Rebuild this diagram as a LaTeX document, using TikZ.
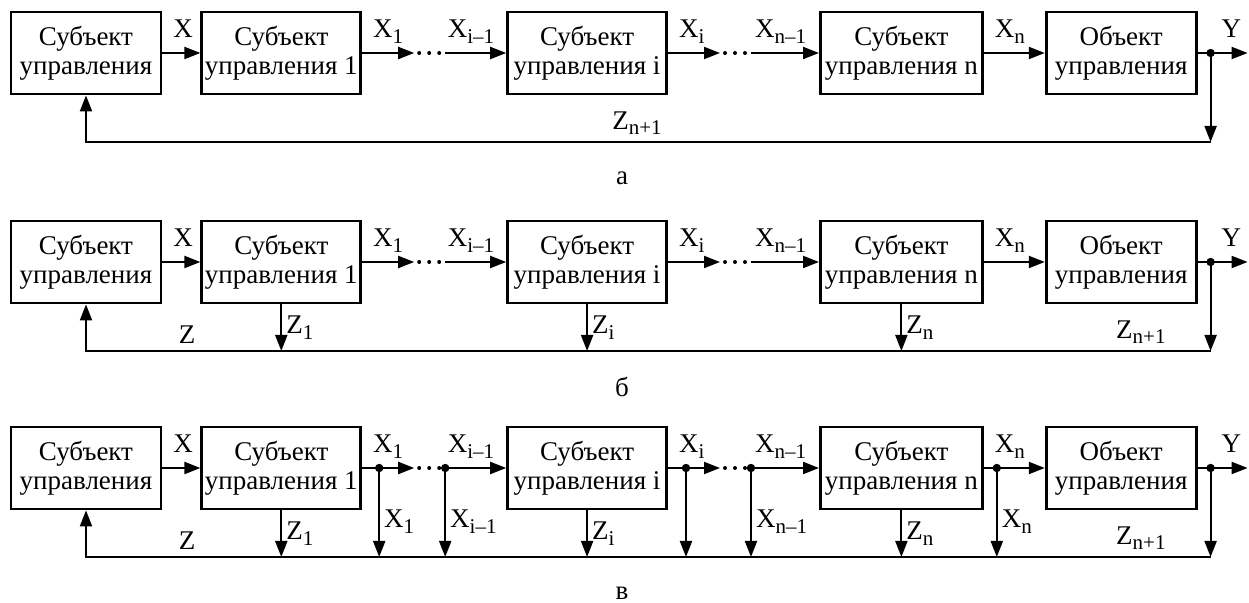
\documentclass[tikz,border=0pt]{standalone}
\usepackage{fontspec}
\setmainfont{Liberation Serif}
\usetikzlibrary{arrows.meta,positioning}

\newcommand\nizh[1]{\raisebox{-0.22em}{\fontsize{10.5}{10.5}\selectfont #1}}

\tikzset{
  blok/.style={draw, line width=1.4pt, minimum width=79.5pt, minimum height=41pt,
    inner sep=1pt, align=center, font=\fontsize{13.5}{14.5}\selectfont},
  metka/.style={inner sep=1pt, font=\fontsize{13.5}{14.5}\selectfont},
  uzel/.style={circle, fill, inner sep=0pt, minimum size=4.2pt},
}

\begin{document}
\begin{tikzpicture}[x=0.5pt, y=-0.5pt, line width=1pt, >={Triangle[length=8pt,width=6pt]}]
\useasboundingbox (0,0) rectangle (1249,603);
\foreach \row/\dy/\lit in {a/0/а, b/209/б, c/415/в} {
  \node [blok, minimum width=75pt] (\row1) at (86,53+\dy) {Субъект\\управления};
  \node [blok] (\row2) [right=19pt of \row1] {Субъект\\управления 1};
  \node [blok] (\row3) [right=72pt of \row2] {Субъект\\управления i};
  \node [blok, minimum width=81pt] (\row4) [right=75.5pt of \row3] {Субъект\\управления n};
  \node [blok, minimum width=75pt] (\row5) [right=30.5pt of \row4] {Объект\\управления};
  \node [metka] (\row name) at (622,178+\dy) {\lit};
  % разрывы цепочки
  \foreach \bl in {2,3} {
    \coordinate (\row p\bl) at ([xshift=26pt]\row\bl.east);
    \coordinate (\row q\bl) at ([xshift=41.5pt]\row\bl.east);
    \foreach \dx in {28.5,33.5,38.5}
      \fill ([xshift=\dx pt]\row\bl.east) circle (1pt);
  }
  \coordinate (\row y) at ([xshift=6.5pt]\row5.east);
  \coordinate (\row o) at ([xshift=25pt]\row5.east);
  \coordinate (\row k) at ([yshift=-44.5pt]\row y);
  \node [uzel] at (\row y) {};
  \path [->]
    (\row1) edge (\row2)
    (\row2) edge (\row p2)
    (\row q2) edge (\row3)
    (\row3) edge (\row p3)
    (\row q3) edge (\row4)
    (\row4) edge (\row5)
    (\row5) edge [-] (\row y)
    (\row y) edge (\row o)
      edge (\row k);
  \draw [->] (\row k) -- (\row1.south |- \row k) -- (\row1);
  % подписи
  \node [metka, above right=7.5pt and 4pt of \row1.east, anchor=base west] {X};
  \node [metka, above right=7.5pt and 4pt of \row2.east, anchor=base west] {X\nizh{1}};
  \node [metka, above left=7.5pt and 4.5pt of \row3.west, anchor=base east] {X\nizh{i--1}};
  \node [metka, above right=7.5pt and 4pt of \row3.east, anchor=base west] {X\nizh{i}};
  \node [metka, above left=7.5pt and 5pt of \row4.west, anchor=base east] {X\nizh{n--1}};
  \node [metka, above right=7.5pt and 4pt of \row4.east, anchor=base west] {X\nizh{n}};
  \node [metka, above right=7.5pt and 4pt of \row y, anchor=base west] {Y};
}
% а
\path (ak) -- node [metka, above=2pt, pos=0.51] {Z\nizh{n+1}} (a1.south |- ak);
% б, в
\foreach \row in {b,c} {
  \foreach \bl/\lab in {2/1,3/i,4/n}
    \draw [->] (\row\bl) -- node [metka, right=1pt] {Z\nizh{\lab}} (\row\bl.south |- \row k);
  \path (\row k) -- node [metka, above=2pt, pos=0.062] {Z\nizh{n+1}}
    node [metka, above=2pt, pos=0.91] {Z} (\row1.south |- \row k);
}
% в
\foreach \bl/\sh in {2/8.5,3/9,4/6.5}
  \coordinate (cj\bl) at ([xshift=\sh pt]c\bl.east);
\foreach \tochka/\lab in {cj2/X\nizh{1}, cq2/X\nizh{i--1}, cj3/{}, cq3/X\nizh{n--1}, cj4/X\nizh{n}} {
  \node [uzel] at (\tochka) {};
  \draw [->] (\tochka) -- node [metka, right=1pt, pos=0.6] {\lab} (\tochka |- ck);
}
\end{tikzpicture}
\end{document}
